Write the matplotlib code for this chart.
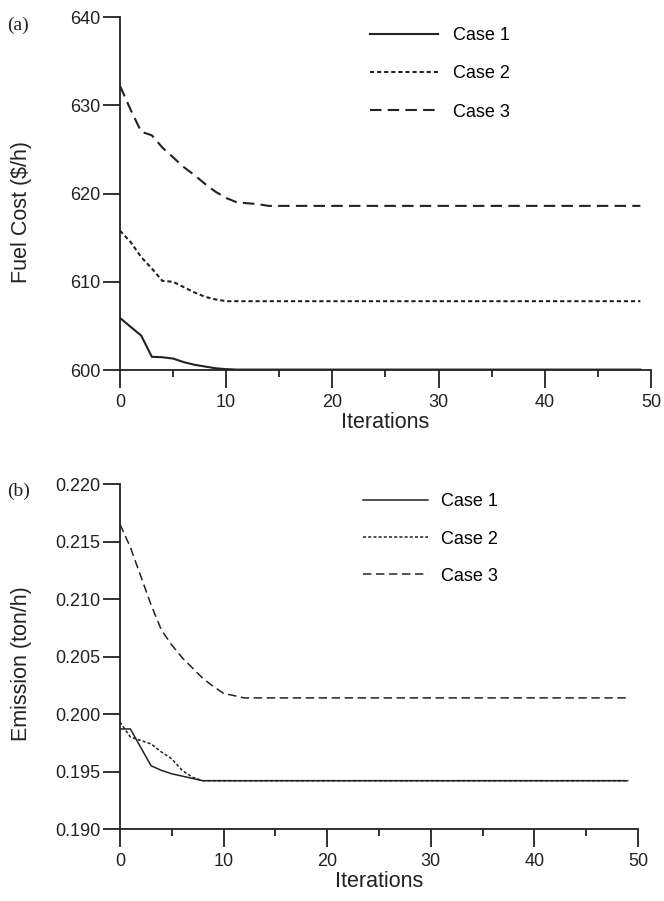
import numpy as np
import matplotlib.pyplot as plt

# iterations 0..49
iterations = np.arange(50)

cost_case1_head = [605.9, 604.9, 603.9, 601.5, 601.45, 601.3, 600.9, 600.6, 600.4, 600.2, 600.1]
cost_case1_tail = 600.05
cost_case2_head = [615.8, 614.5, 612.8, 611.5, 610.1, 610.0, 609.4, 608.8, 608.3, 608.0, 607.8]
cost_case2_tail = 607.8
cost_case3_head = [632.2, 629.5, 627.0, 626.6, 625.2, 624.1, 623.0, 622.1, 621.1, 620.2,
                   619.5, 619.0, 618.9, 618.8, 618.6]
cost_case3_tail = 618.6

# emission (ton/h)
em_case1_head = [0.1987, 0.1987, 0.1971, 0.1955, 0.1951, 0.1948, 0.1946, 0.1944, 0.1942]
em_case1_tail = 0.1942
em_case2_head = [0.1993, 0.1980, 0.1977, 0.1974, 0.1967, 0.1961, 0.1951, 0.1945, 0.1942]
em_case2_tail = 0.1942
em_case3_head = [0.2165, 0.2145, 0.2120, 0.2095, 0.2073, 0.2060, 0.2049, 0.2040, 0.2031,
                 0.2024, 0.2018, 0.2016, 0.2014]
em_case3_tail = 0.2014

labels = ["Case 1", "Case 2", "Case 3"]


def full(head, tail):
    # pad the read-off start with the flat converged value
    return list(head) + [tail] * (len(iterations) - len(head))


plt.rcParams['font.family'] = ['Liberation Sans', 'DejaVu Sans']
ink = '#222222'
styles = ['-', (0, (2.0, 1.4)), (0, (5.5, 3.0))]

fig = plt.figure(figsize=(6.64, 9.01), dpi=100)
ax1 = fig.add_axes([0.1807, 0.5893, 0.7997, 0.3918])
ax2 = fig.add_axes([0.1807, 0.0799, 0.7800, 0.3829])

series_a = [full(cost_case1_head, cost_case1_tail),
            full(cost_case2_head, cost_case2_tail),
            full(cost_case3_head, cost_case3_tail)]
series_b = [full(em_case1_head, em_case1_tail),
            full(em_case2_head, em_case2_tail),
            full(em_case3_head, em_case3_tail)]

for s, ls, lab in zip(series_a, styles, labels):
    ax1.plot(iterations, s, color=ink, lw=1.5, linestyle=ls, label=lab)
for s, ls, lab in zip(series_b, styles, labels):
    ax2.plot(iterations, s, color=ink, lw=1.1, linestyle=ls, label=lab)

ax1.set_ylim(600, 640)
ax1.set_yticks([600, 610, 620, 630, 640])
ax2.set_ylim(0.190, 0.220)
ax2.set_yticks([0.190, 0.195, 0.200, 0.205, 0.210, 0.215, 0.220])
ax2.set_yticklabels(["%.3f" % v for v in ax2.get_yticks()])

ax1.set_ylabel("Fuel Cost ($/h)", fontsize=15.5, color=ink)
ax1.yaxis.set_label_coords(-0.166, 0.448)
ax2.set_ylabel("Emission (ton/h)", fontsize=15.5, color=ink)
ax2.yaxis.set_label_coords(-0.170, 0.48)

for ax in (ax1, ax2):
    ax.set_xlim(0, 50)
    ax.set_xticks([0, 10, 20, 30, 40, 50])
    ax.set_xticks([5, 15, 25, 35, 45], minor=True)
    ax.set_xlabel("Iterations", fontsize=15.5, color=ink, labelpad=1)
    ax.spines['top'].set_visible(False)
    ax.spines['right'].set_visible(False)
    for side in ('left', 'bottom'):
        ax.spines[side].set_linewidth(1.3)
        ax.spines[side].set_color(ink)
    ax.tick_params(which='major', direction='out', length=12.6, width=1.3,
                   labelsize=13, colors=ink)
    ax.tick_params(axis='x', which='major', pad=4.5)
    ax.tick_params(axis='y', which='major', pad=1.5)
    ax.tick_params(which='minor', direction='out', length=5, width=1.3, colors=ink)
    ax.tick_params(axis='y', which='minor', left=False)

ax1.legend(loc='upper left', bbox_to_anchor=(0.47, 0.971), frameon=False,
           fontsize=13, handlelength=3.8, handletextpad=0.8, labelspacing=1.17,
           borderpad=0, borderaxespad=0)
ax2.legend(loc='upper left', bbox_to_anchor=(0.47, 0.973), frameon=False,
           fontsize=13, handlelength=3.6, handletextpad=0.7, labelspacing=1.12,
           borderpad=0, borderaxespad=0)

fig.text(0.0105, 0.9723, "(a)", fontsize=14, family='Liberation Serif', color=ink, va='center')
fig.text(0.0105, 0.455, "(b)", fontsize=14, family='Liberation Serif', color=ink, va='center')

fig.savefig("out.png", dpi=100)
